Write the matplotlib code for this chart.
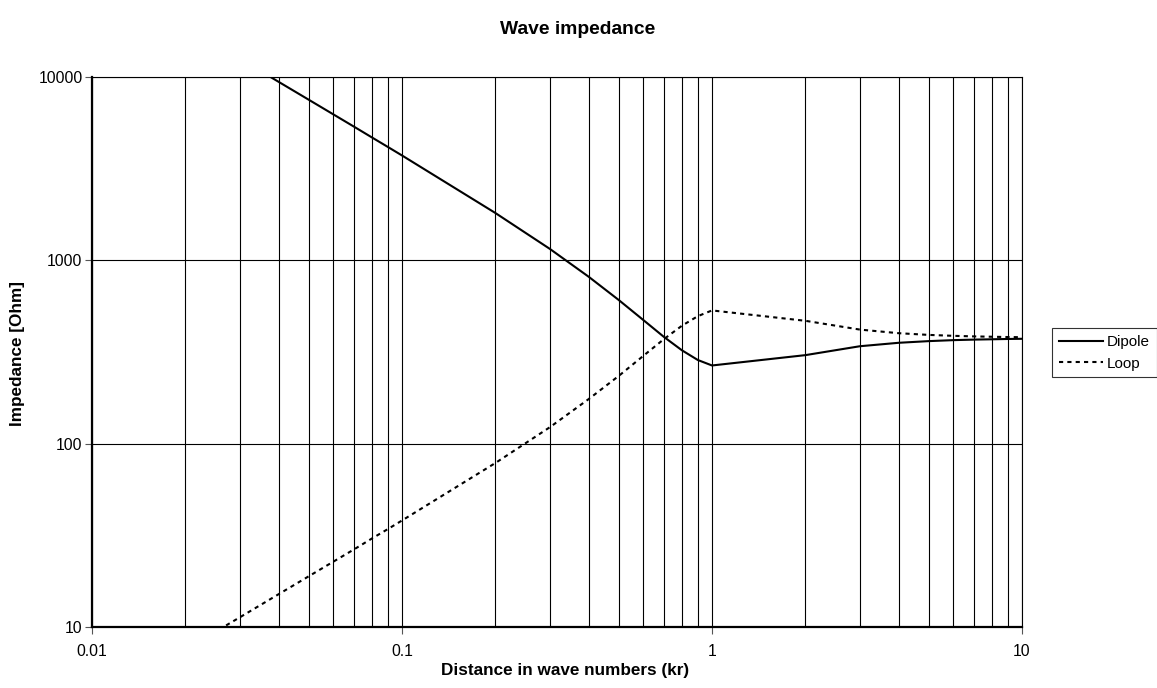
import matplotlib
matplotlib.use("Agg")
import matplotlib.pyplot as plt
from matplotlib.ticker import FixedLocator, FixedFormatter, NullLocator

plt.rcParams['font.family'] = ['Liberation Sans', 'DejaVu Sans']

kr = [0.01, 0.02, 0.03, 0.04, 0.05, 0.06, 0.07, 0.08, 0.09,
      0.1, 0.2, 0.3, 0.4, 0.5, 0.6, 0.7, 0.8, 0.9,
      1, 2, 3, 4, 5, 6, 7, 8, 9, 10]
dipole = [37700, 18840, 12560, 9410, 7520, 6260, 5360, 4680, 4155,
          3733, 1813, 1154, 814, 608, 473, 382, 323, 286,
          267, 304, 340, 355, 362.5, 367, 369.5, 371, 372.4, 373.3]
loop = [3.77, 7.54, 11.3, 15.1, 18.9, 22.7, 26.5, 30.4, 34.2,
        38.1, 78.4, 123, 175, 234, 301, 372, 440, 496,
        533, 468, 419, 400.5, 392, 387.5, 384.7, 383, 381.6, 380.8]

x_ticks = [0.01, 0.1, 1, 10]
x_labels = ["0.01", "0.1", "1", "10"]
y_ticks = [10, 100, 1000, 10000]
y_labels = ["10", "100", "1000", "10000"]

W, H = 1157, 688
fig = plt.figure(figsize=(W / 100, H / 100), dpi=100)
ax = fig.add_axes([92 / W, 1 - 627 / H, (1022 - 92) / W, (627 - 77) / H])

ax.set_xscale('log')
ax.set_yscale('log')
ax.set_xlim(0.01, 10)
ax.set_ylim(10, 10000)

# vertical grid at every 1..9 step in each decade
vgrid = [m * 10.0 ** e for e in (-2, -1, 0) for m in range(1, 10)] + [10]
for v in vgrid:
    ax.axvline(v, color='black', lw=0.8, zorder=1)
for h in y_ticks:
    ax.axhline(h, color='black', lw=0.8, zorder=1)

ax.plot(kr, dipole, color='black', lw=1.5, label='Dipole', zorder=3)
ax.plot(kr, loop, color='black', lw=1.5, ls=(0, (2, 2)), label='Loop', zorder=3)

ax.xaxis.set_major_locator(FixedLocator(x_ticks))
ax.xaxis.set_major_formatter(FixedFormatter(x_labels))
ax.xaxis.set_minor_locator(NullLocator())
ax.yaxis.set_major_locator(FixedLocator(y_ticks))
ax.yaxis.set_major_formatter(FixedFormatter(y_labels))
ax.yaxis.set_minor_locator(NullLocator())
ax.tick_params(axis='both', which='major', direction='out', length=5, width=0.8,
               labelsize=11.3, color='#555555')
ax.tick_params(axis='x', pad=7)
ax.tick_params(axis='y', pad=1.8)

for s in ax.spines.values():
    s.set_color('black')
    s.set_linewidth(0.8)
ax.spines['left'].set_linewidth(1.6)
ax.spines['bottom'].set_linewidth(1.6)

fig.text(565 / W, 1 - 670 / H, 'Distance in wave numbers (kr)', ha='center', va='center',
         fontsize=12.3, fontweight='bold')
fig.text(18 / W, 1 - 353 / H, 'Impedance [Ohm]', ha='center', va='center',
         rotation=90, fontsize=12.3, fontweight='bold')
fig.text(578 / W, 1 - 29 / H, 'Wave impedance', ha='center', va='center',
         fontsize=13.9, fontweight='bold')

leg = fig.legend(loc='upper left', bbox_to_anchor=(1052 / W, 1 - 328 / H),
                 frameon=True, fancybox=False, fontsize=11, handlelength=2.9,
                 handletextpad=0.25, borderpad=0.45, labelspacing=0.5,
                 borderaxespad=0.0)
leg.get_frame().set_edgecolor('black')
leg.get_frame().set_linewidth(0.8)

fig.savefig('out.png', dpi=100)
